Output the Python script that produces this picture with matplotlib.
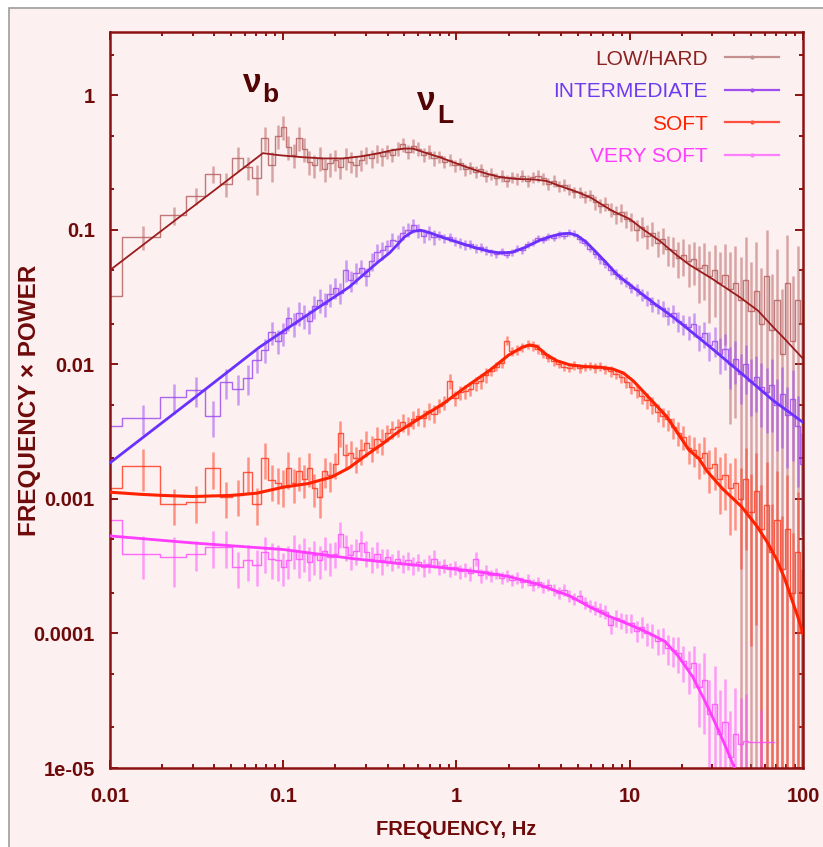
import matplotlib
matplotlib.use("Agg")
import matplotlib.pyplot as plt
import numpy as np
from matplotlib.lines import Line2D
from matplotlib.patches import Rectangle
from matplotlib.ticker import LogLocator, NullFormatter, FixedLocator, FixedFormatter

# ---------------- data ----------------
FREQ = [
    0.0078, 0.0156, 0.0234, 0.0313, 0.0391, 0.0469, 0.0547, 0.0625, 0.0703, 0.0781, 0.0859, 0.0938,
    0.100, 0.107, 0.115, 0.123, 0.132, 0.141, 0.151, 0.162, 0.174, 0.186,
    0.200, 0.214, 0.229, 0.245, 0.263, 0.282, 0.302, 0.324, 0.347, 0.372,
    0.398, 0.427, 0.457, 0.490, 0.525, 0.562, 0.603, 0.646, 0.692, 0.741,
    0.794, 0.851, 0.912, 0.977, 1.05, 1.12, 1.20, 1.29, 1.38, 1.48,
    1.58, 1.70, 1.82, 1.95, 2.09, 2.24, 2.40, 2.57, 2.75, 2.95,
    3.16, 3.39, 3.63, 3.89, 4.17, 4.47, 4.79, 5.13, 5.50, 5.89,
    6.31, 6.76, 7.24, 7.76, 8.32, 8.91, 9.55, 10.2, 11.0, 11.7,
    12.6, 13.5, 14.5, 15.5, 16.6, 17.8, 19.1, 20.4, 21.9, 23.4,
    25.1, 26.9, 28.8, 30.9, 33.1, 35.5, 38.0, 40.7, 43.7, 46.8,
    50.1, 53.7, 57.5, 61.7, 66.1, 70.8, 75.9, 81.3, 87.1, 93.3,
    99.0,
]

LOWHARD_P = [
    0.032, 0.088, 0.128, 0.178, 0.26, 0.22, 0.34, 0.29, 0.24, 0.48, 0.30, 0.50,
    0.58, 0.41, 0.36, 0.48, 0.40, 0.32, 0.30, 0.34, 0.28, 0.31,
    0.33, 0.29, 0.34, 0.32, 0.30, 0.33, 0.36, 0.34, 0.37, 0.35,
    0.38, 0.36, 0.40, 0.43, 0.38, 0.42, 0.40, 0.36, 0.38, 0.34,
    0.35, 0.32, 0.33, 0.30, 0.31, 0.28, 0.29, 0.27, 0.28, 0.25,
    0.26, 0.24, 0.25, 0.23, 0.245, 0.24, 0.25, 0.23, 0.245, 0.25,
    0.24, 0.22, 0.23, 0.21, 0.215, 0.20, 0.19, 0.19, 0.175, 0.18,
    0.16, 0.15, 0.155, 0.14, 0.13, 0.135, 0.12, 0.115, 0.10, 0.105,
    0.09, 0.095, 0.08, 0.085, 0.072, 0.07, 0.062, 0.065, 0.058, 0.06,
    0.052, 0.055, 0.045, 0.05, 0.04, 0.046, 0.036, 0.04, 0.03, 0.042,
    0.025, 0.035, 0.02, 0.045, 0.018, 0.03, 0.012, 0.04, 0.015, 0.03,
    0.02,
]
LOWHARD_RELERR = [
    0.25, 0.2, 0.15, 0.15, 0.15, 0.2, 0.2, 0.2, 0.25, 0.2, 0.25, 0.2,
    0.2, 0.2, 0.2, 0.2, 0.2, 0.2, 0.2, 0.2, 0.2, 0.2,
    0.18, 0.18, 0.18, 0.18, 0.18, 0.18, 0.15, 0.15, 0.15, 0.15,
    0.12, 0.12, 0.12, 0.12, 0.12, 0.12, 0.12, 0.12, 0.12, 0.12,
    0.1, 0.1, 0.1, 0.1, 0.1, 0.1, 0.1, 0.1, 0.1, 0.1,
    0.1, 0.1, 0.1, 0.1, 0.1, 0.1, 0.1, 0.1, 0.1, 0.1,
    0.1, 0.1, 0.1, 0.1, 0.1, 0.1, 0.1, 0.1, 0.1, 0.1,
    0.12, 0.12, 0.12, 0.12, 0.15, 0.15, 0.15, 0.15, 0.18, 0.18,
    0.2, 0.2, 0.22, 0.22, 0.25, 0.25, 0.3, 0.3, 0.35, 0.35,
    0.45, 0.45, 0.55, 0.55, 0.7, 0.7, 0.9, 0.9, 1.1, 1.1,
    1.3, 1.3, 1.6, 1.2, 1.6, 1.4, 2.0, 1.3, 2.0, 1.5,
    1.6,
]

INTER_P = [
    0.0035, 0.0040, 0.0057, 0.0064, 0.0041, 0.0074, 0.0066, 0.0079, 0.0107, 0.0128, 0.0173, 0.0150,
    0.017, 0.022, 0.020, 0.024, 0.023, 0.021, 0.027, 0.030, 0.028, 0.033,
    0.037, 0.034, 0.050, 0.042, 0.048, 0.052, 0.045, 0.058, 0.068, 0.070,
    0.075, 0.084, 0.082, 0.095, 0.100, 0.108, 0.098, 0.090, 0.095, 0.088,
    0.091, 0.086, 0.088, 0.082, 0.080, 0.077, 0.078, 0.073, 0.074, 0.070,
    0.068, 0.066, 0.069, 0.065, 0.068, 0.072, 0.070, 0.078, 0.080, 0.086,
    0.084, 0.089, 0.087, 0.092, 0.090, 0.095, 0.093, 0.085, 0.080, 0.072,
    0.066, 0.060, 0.056, 0.050, 0.047, 0.043, 0.041, 0.037, 0.036, 0.033,
    0.031, 0.028, 0.027, 0.026, 0.023, 0.024, 0.021, 0.020, 0.019, 0.020,
    0.016, 0.017, 0.014, 0.015, 0.012, 0.013, 0.010, 0.011, 0.0085, 0.010,
    0.0075, 0.0080, 0.0068, 0.0062, 0.0070, 0.0050, 0.0060, 0.0042, 0.0055, 0.0035,
    0.0018,
]
INTER_RELERR = [
    0.25, 0.25, 0.25, 0.25, 0.3, 0.25, 0.25, 0.25, 0.2, 0.2, 0.2, 0.2,
    0.2, 0.2, 0.2, 0.2, 0.2, 0.2, 0.2, 0.2, 0.2, 0.2,
    0.18, 0.18, 0.18, 0.18, 0.18, 0.15, 0.15, 0.15, 0.15, 0.15,
    0.12, 0.12, 0.12, 0.12, 0.12, 0.12, 0.12, 0.12, 0.12, 0.12,
    0.08, 0.08, 0.08, 0.08, 0.08, 0.08, 0.08, 0.08, 0.08, 0.08,
    0.06, 0.06, 0.06, 0.06, 0.06, 0.06, 0.06, 0.06, 0.06, 0.06,
    0.06, 0.06, 0.06, 0.06, 0.06, 0.06, 0.06, 0.06, 0.06, 0.06,
    0.07, 0.07, 0.07, 0.08, 0.08, 0.08, 0.09, 0.09, 0.1, 0.1,
    0.12, 0.12, 0.13, 0.13, 0.15, 0.15, 0.17, 0.17, 0.2, 0.2,
    0.22, 0.22, 0.25, 0.25, 0.3, 0.3, 0.35, 0.35, 0.4, 0.4,
    0.45, 0.45, 0.5, 0.5, 0.55, 0.55, 0.6, 0.6, 0.65, 0.65,
    0.7,
]

SOFT_P = [
    0.0012, 0.00175, 0.00091, 0.00095, 0.0017, 0.00103, 0.00106, 0.00158, 0.00092, 0.0020, 0.00137, 0.0013,
    0.00125, 0.0017, 0.0013, 0.0016, 0.0014, 0.0017, 0.0012, 0.00103, 0.0016, 0.0015,
    0.0018, 0.0031, 0.0021, 0.0022, 0.0020, 0.0023, 0.0026, 0.0024, 0.0028, 0.0027,
    0.0031, 0.0033, 0.0034, 0.0037, 0.0035, 0.0039, 0.0041, 0.0040, 0.0045, 0.0043,
    0.0049, 0.0052, 0.0075, 0.0056, 0.0062, 0.0063, 0.0066, 0.0072, 0.0075, 0.0083,
    0.0089, 0.0096, 0.0102, 0.0150, 0.0125, 0.0128, 0.0134, 0.0140, 0.0137, 0.0130,
    0.0120, 0.0112, 0.0105, 0.0100, 0.0096, 0.0094, 0.0098, 0.0093, 0.0095, 0.0097,
    0.0094, 0.0096, 0.0092, 0.0089, 0.0085, 0.0080, 0.0074, 0.0068, 0.0064, 0.0058,
    0.0054, 0.0050, 0.0044, 0.0041, 0.0039, 0.0034, 0.0031, 0.0029, 0.0024, 0.0023,
    0.0020, 0.0022, 0.0017, 0.0018, 0.0014, 0.0015, 0.0012, 0.0013, 0.0010, 0.0014,
    0.0008, 0.00115, 0.0006, 0.0009, 0.0004, 0.0007, 0.0003, 0.0006, 0.0002, 0.0004,
    0.0001,
]
SOFT_RELERR = [
    0.35, 0.35, 0.3, 0.3, 0.3, 0.3, 0.3, 0.3, 0.3, 0.3, 0.3, 0.3,
    0.3, 0.3, 0.28, 0.28, 0.28, 0.28, 0.28, 0.3, 0.25, 0.25,
    0.22, 0.22, 0.22, 0.22, 0.22, 0.22, 0.22, 0.22, 0.22, 0.22,
    0.15, 0.15, 0.15, 0.15, 0.15, 0.15, 0.15, 0.15, 0.15, 0.15,
    0.12, 0.12, 0.12, 0.12, 0.12, 0.12, 0.12, 0.12, 0.12, 0.12,
    0.08, 0.08, 0.08, 0.08, 0.08, 0.08, 0.08, 0.08, 0.08, 0.08,
    0.07, 0.07, 0.07, 0.07, 0.07, 0.07, 0.07, 0.07, 0.07, 0.07,
    0.08, 0.08, 0.08, 0.09, 0.09, 0.1, 0.1, 0.11, 0.12, 0.12,
    0.14, 0.14, 0.16, 0.16, 0.18, 0.18, 0.2, 0.2, 0.25, 0.25,
    0.3, 0.3, 0.35, 0.35, 0.45, 0.45, 0.55, 0.55, 0.7, 0.7,
    0.9, 0.9, 1.1, 1.1, 1.3, 1.3, 1.5, 1.5, 1.8, 1.8,
    2.0,
]

VSOFT_P = [
    0.00070, 0.00039, 0.00037, 0.00039, 0.00044, 0.00044, 0.00031, 0.00035, 0.00032, 0.00040, 0.00036, 0.00035,
    0.00031, 0.00035, 0.00042, 0.00036, 0.00040, 0.00034, 0.00038, 0.00035, 0.00041, 0.00037,
    0.00039, 0.00055, 0.00044, 0.00038, 0.00041, 0.00047, 0.00040, 0.00036, 0.00039, 0.00035,
    0.00037, 0.00034, 0.00036, 0.00033, 0.00035, 0.00032, 0.00034, 0.00031, 0.00033, 0.00036,
    0.00031, 0.00032, 0.00030, 0.00031, 0.00029, 0.00030, 0.00028, 0.00036, 0.00027, 0.00029,
    0.00027, 0.00028, 0.00026, 0.00027, 0.00025, 0.00026, 0.00024, 0.00025, 0.00023, 0.00024,
    0.00022, 0.00023, 0.00021, 0.00020, 0.00021, 0.00019, 0.00018, 0.00019, 0.00017, 0.00016,
    0.000155, 0.00015, 0.000145, 0.000115, 0.00013, 0.000125, 0.00012, 0.00012, 0.000105, 0.000112,
    0.0001, 0.000098, 0.000088, 0.00009, 0.000078, 0.000075, 0.000072, 0.000062, 0.000055, 0.00006,
    0.00004, 0.000045, 0.000025, 0.00003, 0.000018, 0.000022, 0.000012, 0.000018, 0.000015, 0.000016,
    0.0000155, 0.0000155, 0.0000155, 0.0000155, 0.0000155, np.nan, np.nan, np.nan, np.nan, np.nan,
    np.nan,
]
VSOFT_RELERR = [
    0.35, 0.35, 0.4, 0.25, 0.3, 0.3, 0.3, 0.3, 0.3, 0.3, 0.3, 0.3,
    0.28, 0.28, 0.28, 0.28, 0.28, 0.28, 0.28, 0.28, 0.28, 0.28,
    0.22, 0.22, 0.22, 0.22, 0.22, 0.22, 0.22, 0.22, 0.22, 0.22,
    0.15, 0.15, 0.15, 0.15, 0.15, 0.15, 0.15, 0.15, 0.15, 0.15,
    0.12, 0.12, 0.12, 0.12, 0.12, 0.12, 0.12, 0.12, 0.12, 0.12,
    0.1, 0.1, 0.1, 0.1, 0.1, 0.1, 0.1, 0.1, 0.1, 0.1,
    0.1, 0.1, 0.1, 0.1, 0.1, 0.1, 0.1, 0.1, 0.1, 0.1,
    0.12, 0.12, 0.12, 0.14, 0.14, 0.14, 0.16, 0.16, 0.18, 0.18,
    0.2, 0.2, 0.22, 0.22, 0.25, 0.25, 0.3, 0.3, 0.35, 0.35,
    0.5, 0.6, 0.8, 0.9, 1.1, 1.1, 1.2, 1.2, 1.2, 1.2,
    np.nan, np.nan, 0.75, np.nan, np.nan, np.nan, np.nan, np.nan, np.nan, np.nan,
    np.nan,
]

# best-fit model curves
MODEL_LOWHARD_F = [0.01, 0.0763, 0.09, 0.1, 0.13, 0.17, 0.22, 0.28, 0.35, 0.43, 0.5, 0.56, 0.65,
                   0.8, 1.0, 1.25, 1.5, 1.8, 2.2, 2.8, 3.3, 4.0, 5.0, 6.0, 7.0, 8.0, 10, 12, 15,
                   18, 22, 30, 43, 55, 67, 80, 100]
MODEL_LOWHARD_P = [0.050, 0.37, 0.36, 0.355, 0.345, 0.338, 0.338, 0.35, 0.368, 0.39, 0.40, 0.40, 0.375,
                   0.345, 0.31, 0.28, 0.26, 0.245, 0.238, 0.236, 0.23, 0.21, 0.19, 0.172, 0.152, 0.137,
                   0.12, 0.10, 0.082, 0.067, 0.055, 0.043, 0.0316, 0.025, 0.019, 0.015, 0.0110]
MODEL_INTER_F = [0.01, 0.03, 0.073, 0.15, 0.24, 0.3, 0.35, 0.41, 0.45, 0.5, 0.56, 0.62, 0.7, 0.8,
                 0.92, 1.1, 1.3, 1.55, 1.8, 2.1, 2.5, 3.0, 3.5, 4.0, 4.5, 5.0, 5.6, 6.4, 7.3, 8.5,
                 10, 11.5, 14, 17.8, 22, 30, 43, 67, 100]
MODEL_INTER_P = [0.00185, 0.0055, 0.0134, 0.025, 0.0374, 0.048, 0.057, 0.067, 0.076, 0.088, 0.097,
                 0.099, 0.095, 0.089, 0.084, 0.078, 0.073, 0.069, 0.067, 0.068, 0.074, 0.083, 0.089,
                 0.093, 0.094, 0.090, 0.081, 0.068, 0.057, 0.046, 0.039, 0.034, 0.028, 0.0224, 0.018,
                 0.013, 0.0088, 0.0054, 0.0037]
MODEL_SOFT_F = [0.01, 0.015, 0.02, 0.03, 0.05, 0.07, 0.1, 0.14, 0.19, 0.24, 0.3, 0.38, 0.47, 0.6,
                0.84, 1.1, 1.57, 2.0, 2.4, 2.65, 2.9, 3.3, 3.8, 4.5, 5.5, 6.8, 8.0, 9.2, 10.5, 13,
                16.3, 22, 25, 28, 34.5, 44, 54, 62, 70, 78, 86, 93, 100]
MODEL_SOFT_P = [0.00112, 0.00108, 0.00106, 0.00104, 0.00106, 0.0011, 0.00122, 0.0013, 0.00145, 0.0017,
                0.0021, 0.0026, 0.0032, 0.0039, 0.0051, 0.0066, 0.0091, 0.0117, 0.0134, 0.0139, 0.0136,
                0.0118, 0.0106, 0.0099, 0.0096, 0.0095, 0.0092, 0.0086, 0.0075, 0.0056, 0.0041, 0.0023,
                0.0020, 0.0016, 0.00118, 0.00088, 0.00063, 0.00048, 0.00036, 0.00026, 0.00018,
                0.000135, 0.0001]
MODEL_VSOFT_F = [0.01, 0.03, 0.1, 0.25, 0.47, 0.8, 1.3, 2.0, 3.0, 4.5, 6, 7.5, 10, 13, 16, 19, 23,
                 27, 30, 33, 37, 41]
MODEL_VSOFT_P = [0.00053, 0.00047, 0.00042, 0.00036, 0.00033, 0.00031, 0.000288, 0.000265, 0.00023,
                 0.00019, 0.000155, 0.000135, 0.000116, 0.0001, 0.000087, 0.000068, 0.000048, 0.000032,
                 0.000024, 0.0000183, 0.000013, 0.0000095]

SERIES_NAMES = ["LOW/HARD", "INTERMEDIATE", "SOFT", "VERY SOFT"]
X_TICKS = [0.01, 0.1, 1, 10, 100]
X_TICK_LABELS = ["0.01", "0.1", "1", "10", "100"]
Y_TICKS = [1e-5, 1e-4, 1e-3, 1e-2, 1e-1, 1]
Y_TICK_LABELS = ["1e-05", "0.0001", "0.001", "0.01", "0.1", "1"]

# ---------------- style ----------------
BG = "#fdf0f0"
FRAME = "#8b1212"
TXT = "#6e0a0a"
DATA_COLORS = ["#b35a5a", "#9844f2", "#ff3418", "#ff48ff"]
MODEL_COLORS = ["#9a1c1c", "#6a30ff", "#ff2200", "#ff3cff"]
MODEL_LW = [1.3, 2.0, 2.2, 2.0]
LABEL_COLORS = ["#8b2323", "#6b3cf0", "#ff2200", "#ff3cff"]
HANDLE_COLORS = ["#c49090", "#a050f0", "#ff5040", "#ff80ff"]

plt.rcParams['font.family'] = ['Liberation Sans', 'DejaVu Sans']

fig = plt.figure(figsize=(8.23, 8.47), dpi=100)
fig.patch.set_facecolor("white")
fig.patches.append(Rectangle((9 / 823, -0.02), 1.2, 1 - 8 / 847 + 0.02, transform=fig.transFigure,
                             facecolor=BG, edgecolor="#9c9c9c", linewidth=1.2, zorder=-10))

ax = fig.add_axes([110 / 823, 1 - 768 / 847, 693 / 823, 736 / 847])
ax.set_facecolor(BG)
ax.set_xscale("log")
ax.set_yscale("log")

f = np.array(FREQ)
series = [(LOWHARD_P, LOWHARD_RELERR), (INTER_P, INTER_RELERR), (SOFT_P, SOFT_RELERR), (VSOFT_P, VSOFT_RELERR)]
for i, (p, rel) in enumerate(series):
    p = np.array(p, dtype=float)
    err = p * np.array(rel, dtype=float)
    col = DATA_COLORS[i]
    ax.errorbar(f, p, yerr=err, fmt="none", ecolor=col, elinewidth=1.8, alpha=0.5, capsize=0, zorder=2 + i * 0.1)
    ax.step(f, p, where="mid", color=col, lw=1.0, alpha=0.8, zorder=2.05 + i * 0.1)

models = [(MODEL_LOWHARD_F, MODEL_LOWHARD_P), (MODEL_INTER_F, MODEL_INTER_P),
          (MODEL_SOFT_F, MODEL_SOFT_P), (MODEL_VSOFT_F, MODEL_VSOFT_P)]
for i, (mf, mp) in enumerate(models):
    ax.plot(mf, mp, color=MODEL_COLORS[i], lw=MODEL_LW[i], zorder=5, solid_joinstyle="round")

ax.set_xlim(0.01, 100)
ax.set_ylim(1e-5, 2.94)

ax.xaxis.set_major_locator(FixedLocator(X_TICKS))
ax.xaxis.set_major_formatter(FixedFormatter(X_TICK_LABELS))
ax.xaxis.set_minor_locator(LogLocator(base=10, subs=(2, 3, 4, 5, 6, 7, 8, 9), numticks=20))
ax.xaxis.set_minor_formatter(NullFormatter())
ax.yaxis.set_major_locator(FixedLocator(Y_TICKS))
ax.yaxis.set_major_formatter(FixedFormatter(Y_TICK_LABELS))
ax.yaxis.set_minor_locator(LogLocator(base=10, subs=(2, 5), numticks=20))
ax.yaxis.set_minor_formatter(NullFormatter())

ax.tick_params(which="both", direction="in", top=True, right=True, color=FRAME, width=1.4)
ax.tick_params(which="major", length=6)
ax.tick_params(which="minor", length=3)
ax.tick_params(axis="x", which="major", pad=14, labelsize=14.5, labelcolor=TXT)
ax.tick_params(axis="y", which="major", pad=11, labelsize=14.5, labelcolor=TXT)
for lab in ax.get_xticklabels() + ax.get_yticklabels():
    lab.set_fontweight("bold")
for s in ax.spines.values():
    s.set_color(FRAME)
    s.set_linewidth(1.8)

ax.set_xlabel("FREQUENCY, Hz", fontsize=14.5, fontweight="bold", color=TXT, labelpad=10)
ax.set_ylabel("FREQUENCY × POWER", fontsize=17.5, fontweight="bold", color=TXT)
ax.yaxis.set_label_coords(-0.099, 0.5)

# nu labels
NU_COLOR = "#520404"
ax.text(0.0587, 1.05, "ν", fontsize=24, fontweight="bold", color=NU_COLOR, ha="left", va="baseline", zorder=6)
ax.text(0.0754, 0.887, "b", fontsize=19, fontweight="bold", color=NU_COLOR, ha="left", va="baseline", zorder=6)
ax.text(0.59, 0.774, "ν", fontsize=24, fontweight="bold", color=NU_COLOR, ha="left", va="baseline", zorder=6)
ax.text(0.77, 0.62, "L", fontsize=19, fontweight="bold", color=NU_COLOR, ha="left", va="baseline", zorder=6)

handles = [Line2D([], [], color=c, lw=1.6, marker=".", ms=4) for c in HANDLE_COLORS]
leg = ax.legend(handles, SERIES_NAMES, loc="upper right", bbox_to_anchor=(0.965, 0.976),
                frameon=False, markerfirst=False, handlelength=2.6, handletextpad=0.8,
                labelspacing=0.65, fontsize=15, borderaxespad=0, borderpad=0)
for t, c in zip(leg.get_texts(), LABEL_COLORS):
    t.set_color(c)

fig.savefig("out.png", dpi=100, facecolor=fig.get_facecolor())
